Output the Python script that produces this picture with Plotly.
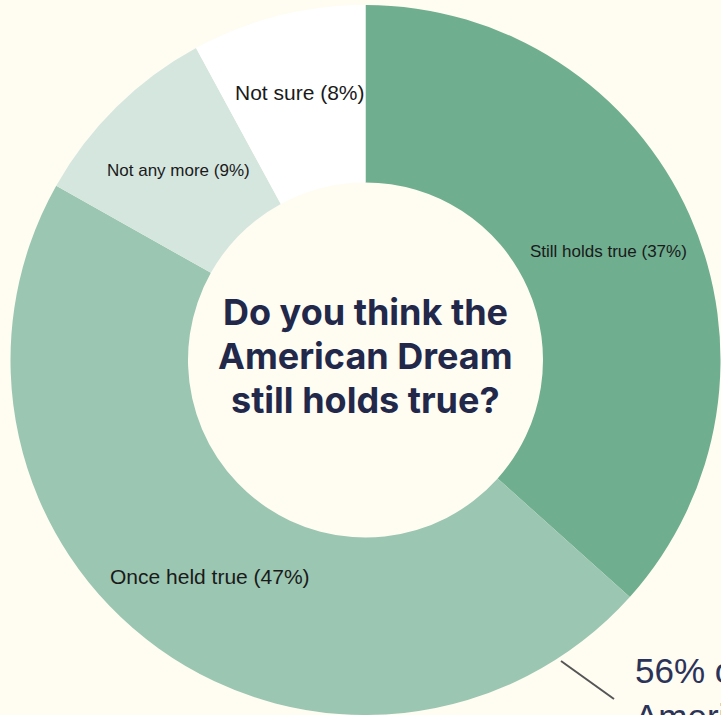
import math
import plotly.graph_objects as go

categories = ["Still holds true", "Once held true", "Not any more", "Not sure"]
values = [37, 47, 9, 8]
colors = ["#6FAE8F", "#9BC6B1", "#D5E6DF", "#FFFFFF"]
label_sizes = [17, 21, 17, 21]
label_yshift = [0, 0, 0, 9]

title_lines = ["Do you think the", "American Dream", "still holds true?"]
callout_text = "56% of<br>Americans believe the dream"

W, H = 721, 715
BG = "#FFFCF2"
HOLE = 0.5
dom_x = [10 / W, 1]
dom_y = [0, 710 / H]

fig = go.Figure()
fig.add_trace(go.Pie(
    labels=categories,
    values=values,
    textinfo="none",
    marker=dict(colors=colors, line=dict(width=0)),
    hole=HOLE,
    sort=False,
    direction="clockwise",
    rotation=0,
    showlegend=False,
    hoverinfo="skip",
    domain=dict(x=dom_x, y=dom_y),
))

# slice labels placed at mid-ring, mid-angle of each slice
cx_px = (dom_x[0] + dom_x[1]) / 2 * W
cy_px = (dom_y[0] + dom_y[1]) / 2 * H
radius = min((dom_x[1] - dom_x[0]) * W, (dom_y[1] - dom_y[0]) * H) / 2
r_mid = radius * (1 + HOLE) / 2
total = sum(values)
cum = 0
for cat, v, fs, ys in zip(categories, values, label_sizes, label_yshift):
    theta = 2 * math.pi * (cum + v / 2) / total
    cum += v
    px = cx_px + r_mid * math.sin(theta)
    py = cy_px + r_mid * math.cos(theta)
    fig.add_annotation(
        text=f"{cat} ({v}%)", x=px / W, y=py / H, xref="paper", yref="paper",
        xanchor="center", yanchor="middle", showarrow=False, yshift=ys,
        font=dict(family="Liberation Sans, Arial, sans-serif", size=fs, color="#1A1A1A"),
    )

for i, line in enumerate(title_lines):
    fig.add_annotation(
        text=line, x=cx_px / W, y=1 - 355.5 / H, xref="paper", yref="paper",
        xanchor="center", yanchor="middle", showarrow=False,
        yshift=(1 - i) * 44,
        font=dict(family="Inter, sans-serif", size=36, color="#22284A", weight="bold"),
    )

fig.add_shape(type="line", xref="paper", yref="paper",
              x0=561 / W, y0=1 - 661 / H, x1=614 / W, y1=1 - 699 / H,
              line=dict(color="#555555", width=2))

fig.add_annotation(
    text=callout_text, x=633 / W, y=1 - 649 / H, xref="paper", yref="paper",
    xanchor="left", yanchor="top", align="left", showarrow=False,
    font=dict(family="Liberation Sans, Arial, sans-serif", size=35, color="#2B3358"),
)

fig.update_layout(
    width=W, height=H,
    margin=dict(l=0, r=0, t=0, b=0),
    paper_bgcolor=BG, plot_bgcolor=BG,
)

fig.write_html("out.html")
